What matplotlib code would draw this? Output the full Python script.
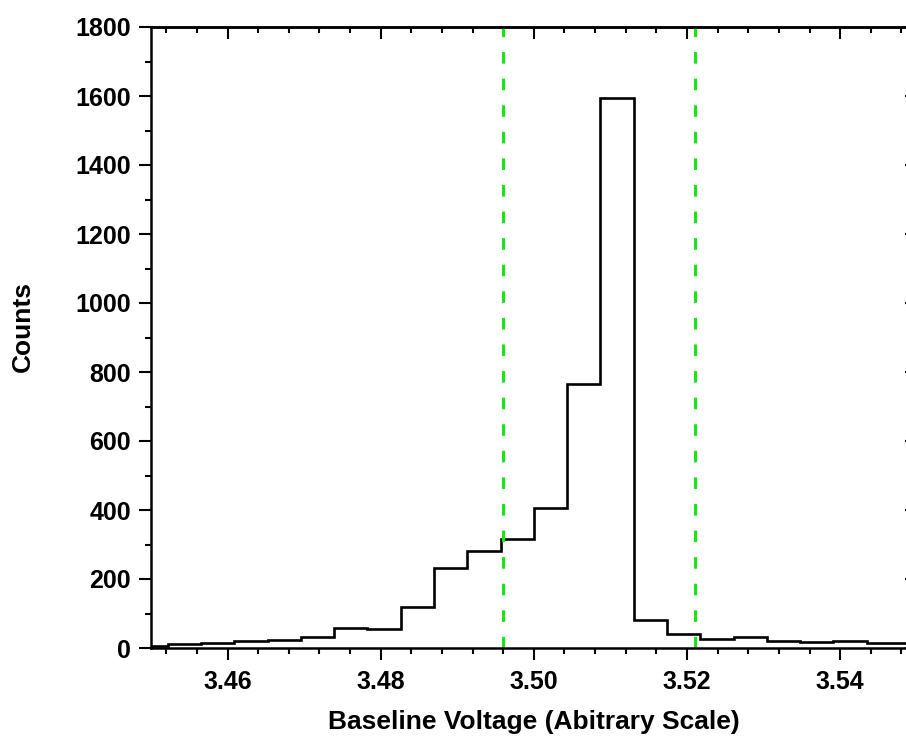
import numpy as np
import matplotlib
matplotlib.use("Agg")
import matplotlib.pyplot as plt

# Histogram bin edges (Baseline voltage) and counts
bin_edges = [3.447826, 3.452174, 3.456522, 3.460870, 3.465217, 3.469565,
             3.473913, 3.478261, 3.482609, 3.486957, 3.491304, 3.495652,
             3.500000, 3.504348, 3.508696, 3.513043, 3.517391, 3.521739,
             3.526087, 3.530435, 3.534783, 3.539130, 3.543478, 3.547826,
             3.552174]
counts = [5, 13, 14, 19, 24, 33, 58, 56, 118, 231, 280, 315,
          407, 766, 1593, 81, 41, 26, 31, 19, 17, 20, 15, 14]

# Marker lines
cut_lines = [3.496, 3.521]

x_major = [3.46, 3.48, 3.50, 3.52, 3.54]
y_major = [0, 200, 400, 600, 800, 1000, 1200, 1400, 1600, 1800]
x_minor = [3.452, 3.456, 3.464, 3.468, 3.472, 3.476, 3.484, 3.488, 3.492,
           3.496, 3.504, 3.508, 3.512, 3.516, 3.524, 3.528, 3.532, 3.536,
           3.544, 3.548]
y_minor = [100, 300, 500, 700, 900, 1100, 1300, 1500, 1700]

plt.rcParams['font.family'] = ['Liberation Sans', 'DejaVu Sans']
plt.rcParams['font.weight'] = 'bold'

W, H = 906, 743
fig = plt.figure(figsize=(W / 100, H / 100), dpi=100)
ax = fig.add_axes([151 / W, (H - 648) / H, 765.7 / W, 621 / H])

ax.stairs(counts, bin_edges, color='black', lw=1.9, baseline=None)
for xv in cut_lines:
    ax.axvline(xv, color='#19e619', lw=2.2, linestyle=(0, (3.8, 4.9)))

ax.set_xticks(x_major)
ax.set_xticklabels([f"{v:.2f}" for v in x_major])
ax.set_yticks(y_major)
ax.set_xticks(x_minor, minor=True)
ax.set_yticks(y_minor, minor=True)
ax.set_xlim(3.45, 3.55)
ax.set_ylim(0, 1800)

for s in ax.spines.values():
    s.set_linewidth(1.8)
ax.tick_params(which='major', direction='out', length=8.5, width=1.5,
               labelsize=18)
ax.tick_params(axis='x', which='major', pad=7)
ax.tick_params(axis='y', which='major', pad=6)
ax.tick_params(which='minor', direction='out', length=4.5, width=1.5)
for lab in ax.get_xticklabels() + ax.get_yticklabels():
    lab.set_fontweight('bold')

# mirrored inward ticks on top and right
top = ax.secondary_xaxis('top')
top.set_xticks(x_major)
top.set_xticks(x_minor, minor=True)
top.tick_params(which='major', direction='in', length=8.5, width=1.5, labeltop=False)
top.tick_params(which='minor', direction='in', length=4.5, width=1.5)
top.spines['top'].set_linewidth(1.8)

right = ax.secondary_yaxis('right')
right.set_yticks(y_major)
right.set_yticks(y_minor, minor=True)
right.tick_params(which='major', direction='in', length=8.5, width=1.5, labelright=False)
right.tick_params(which='minor', direction='in', length=4.5, width=1.5)
right.spines['right'].set_linewidth(1.8)

fig.text(534 / W, 1 - 722 / H, 'Baseline Voltage (Abitrary Scale)', ha='center',
         va='center', fontsize=19, fontweight='bold')
fig.text(23 / W, 1 - 326 / H, 'Counts', ha='center', va='center', rotation=90,
         fontsize=19, fontweight='bold')

fig.savefig('out.png', dpi=100)
